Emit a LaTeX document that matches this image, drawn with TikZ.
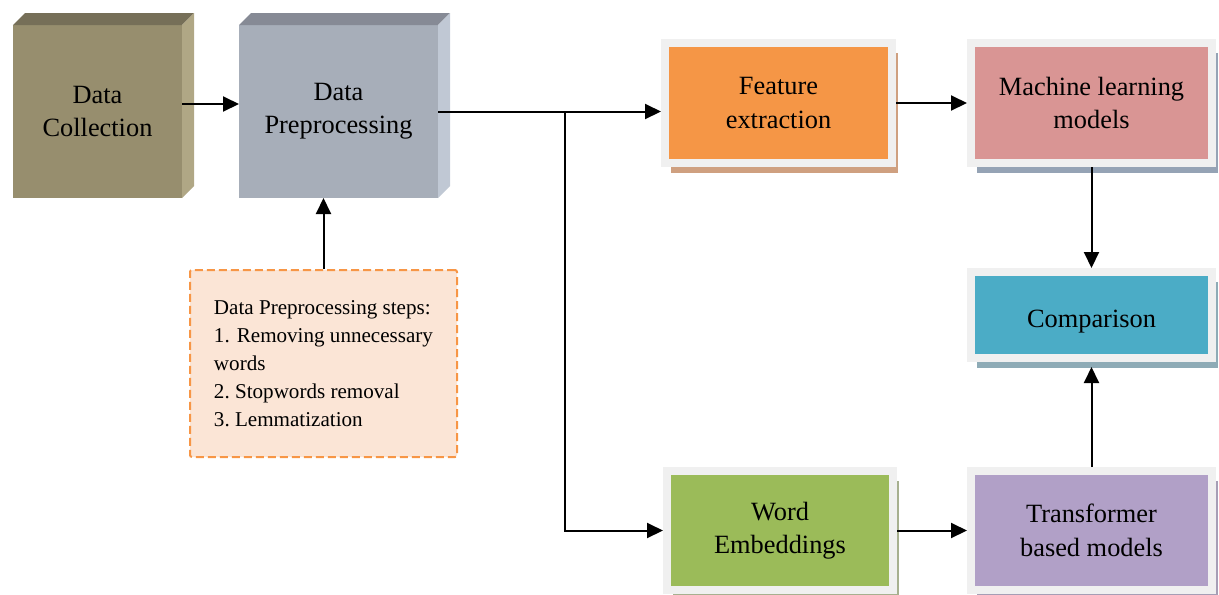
\documentclass[tikz,border=0pt]{standalone}
\usepackage{fontspec}
\setmainfont{Liberation Serif}
\usepackage{tikz}
\usetikzlibrary{arrows.meta,shadows}

\definecolor{dcfront}{RGB}{151,142,110}
\definecolor{dctop}{RGB}{118,111,88}
\definecolor{dcside}{RGB}{176,167,133}
\definecolor{dpfront}{RGB}{167,174,185}
\definecolor{dptop}{RGB}{134,138,149}
\definecolor{dpside}{RGB}{192,200,212}
\definecolor{frame}{RGB}{240,240,240}
\definecolor{fefill}{RGB}{245,150,70}
\definecolor{feshadow}{RGB}{207,160,128}
\definecolor{mlfill}{RGB}{217,149,148}
\definecolor{mlshadow}{RGB}{149,163,181}
\definecolor{cofill}{RGB}{75,172,198}
\definecolor{coshadow}{RGB}{142,171,182}
\definecolor{wefill}{RGB}{155,187,89}
\definecolor{weshadow}{RGB}{167,176,143}
\definecolor{trfill}{RGB}{177,160,199}
\definecolor{trshadow}{RGB}{166,158,181}
\definecolor{notefill}{RGB}{251,229,214}
\definecolor{noteline}{RGB}{247,150,70}

\begin{document}
\begin{tikzpicture}[
  cube/.style={minimum height=3.46cm, inner sep=0pt, outer sep=0pt, align=center, font=\fontsize{15}{19}\selectfont},
  framed/.style={draw=frame, line width=0.16cm, outer sep=0.08cm, inner sep=0pt, align=center,
    font=\fontsize{15}{19}\selectfont,
    drop shadow={shadow xshift=0.12cm, shadow yshift=-0.2cm, fill=#1, opacity=1}},
  note/.style={draw=noteline, fill=notefill, line width=0.04cm, dash pattern=on 0.16cm off 0.08cm,
    rounded corners=0.04cm, minimum width=5.34cm, minimum height=3.74cm, align=left,
    font=\fontsize{12}{15.9}\selectfont},
  arrow/.style={line width=0.04cm, -{Triangle[length=0.32cm,width=0.3cm]}}
]
\useasboundingbox (0,0) rectangle (24.38,-11.88);

% 3D boxes
\node[cube, fill=dcfront, minimum width=3.38cm] (dc) at (1.95,-2.23) {Data\\Collection};
\fill[dctop] (dc.north west) -- ++(0.24,0.24) -- ++(3.38,0) -- (dc.north east) -- cycle;
\fill[dcside] (dc.north east) -- ++(0.24,0.24) -- ++(0,-3.46) -- (dc.south east) -- cycle;

\node[cube, fill=dpfront, minimum width=3.98cm] (dp) at (6.77,-2.23) {Data\\Preprocessing};
\fill[dptop] (dp.north west) -- ++(0.24,0.24) -- ++(3.98,0) -- (dp.north east) -- cycle;
\fill[dpside] (dp.north east) -- ++(0.24,0.24) -- ++(0,-3.46) -- (dp.south east) -- cycle;

\node[note] (steps) at (6.47,-7.27) {Data Preprocessing steps:\\1. Removing unnecessary\\words\\2.\ Stopwords removal\\3.\ Lemmatization};

% framed boxes
\node[framed=feshadow, fill=fefill, minimum width=4.54cm, minimum height=2.40cm] (fe) at (15.57,-2.06) {Feature\\extraction};
\node[framed=mlshadow, fill=mlfill, minimum width=4.82cm, minimum height=2.40cm] (ml) at (21.83,-2.06) {Machine learning\\models};
\node[framed=coshadow, fill=cofill, minimum width=4.82cm, minimum height=1.72cm, text height=0.62cm] (comp) at (21.83,-6.30) {Comparison};
\node[framed=weshadow, fill=wefill, minimum width=4.52cm, minimum height=2.38cm] (we) at (15.60,-10.61) {Word\\Embeddings};
\node[framed=trshadow, fill=trfill, minimum width=4.82cm, minimum height=2.38cm] (tr) at (21.83,-10.61) {Transformer\\based models};

% arrows
\draw[arrow] ([yshift=0.15cm]dc.east) -- ([yshift=0.15cm]dp.west);
\draw[arrow] (steps.north) -- (steps.north |- dp.south);
\path (dp.east) ++(2.54,0) coordinate (split);
\draw[arrow] (dp.east) -- (split) -- (split -| fe.west);
\draw[arrow] (split) |- (we.west);
\draw[arrow] (fe.east) -- (ml.west);
\draw[arrow] (ml.south) -- (comp.north);
\draw[arrow] (we.east) -- (tr.west);
\draw[arrow] (tr.north) -- ([yshift=-0.1cm]comp.south);
\end{tikzpicture}
\end{document}
